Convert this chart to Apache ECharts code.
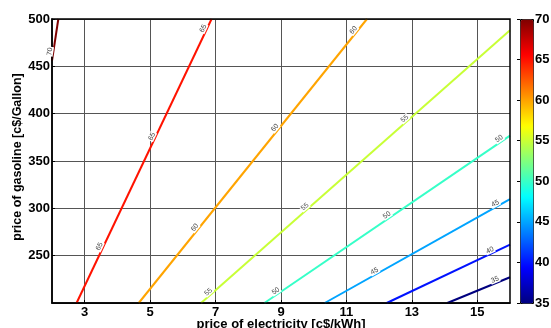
<!DOCTYPE html>
<html>
<head>
<meta charset="utf-8">
<script src="https://cdn.jsdelivr.net/npm/echarts@6/dist/echarts.min.js"></script>
<style>
html,body{margin:0;padding:0;background:#fff;}
#chart{width:551px;height:328px;}
</style>
</head>
<body>
<div id="chart"></div>
<script>
// contour levels and the gasoline/electricity price ratio each one follows
var levels = [35, 40, 45, 50, 55, 60, 65, 70];
var ratios = [14.2, 16.35, 19.35, 23.55, 30.5, 43.0, 72.7, 228];
// x positions (electricity price) where each contour carries its label
var labelAt = [
    [15.58],
    [15.43],
    [11.91, 15.6],
    [8.9, 12.3, 15.73],
    [6.85, 9.8, 12.85],
    [6.45, 8.9, 11.3],
    [3.55, 5.15, 6.72],
    [2.04]
];
var xTicks = [3, 5, 7, 9, 11, 13, 15];
var xMin = 2, xMax = 16, yMin = 200, yMax = 500;
var cMin = 35, cMax = 70;

var jet = ['#00007f', '#0000ff', '#007fff', '#00ffff', '#7fff7f', '#ffff00', '#ff7f00', '#ff0000', '#7f0000'];

function hex(c) { return [parseInt(c.substr(1, 2), 16), parseInt(c.substr(3, 2), 16), parseInt(c.substr(5, 2), 16)]; }
function jetColor(v) {
    var t = (v - cMin) / (cMax - cMin) * (jet.length - 1);
    var i = Math.min(Math.floor(t), jet.length - 2);
    var f = t - i;
    var a = hex(jet[i]), b = hex(jet[i + 1]);
    return 'rgb(' + [0, 1, 2].map(function (k) { return Math.round(a[k] + (b[k] - a[k]) * f); }).join(',') + ')';
}

var font = '"Liberation Sans", Arial, Helvetica, sans-serif';
var series = [];

levels.forEach(function (lv, n) {
    var r = ratios[n];
    var x0 = Math.max(xMin, yMin / r), x1 = Math.min(xMax, yMax / r);
    var col = jetColor(lv);
    var marks = labelAt[n].map(function (xa) {
        var d = 0.02;
        return [{coord: [xa - d, r * (xa - d)]}, {coord: [xa + d, r * (xa + d)]}];
    });
    series.push({
        type: 'line',
        name: String(lv),
        data: [[x0, r * x0], [x1, r * x1]],
        showSymbol: false,
        symbol: 'none',
        lineStyle: {color: col, width: 2},
        itemStyle: {color: col},
        z: 3,
        markLine: {
            silent: true,
            symbol: ['none', 'none'],
            animation: false,
            lineStyle: {color: 'rgba(255,255,255,0)', width: 0, type: 'solid'},
            label: {
                show: true,
                position: 'middle',
                formatter: String(lv),
                fontSize: 7,
                fontFamily: font,
                color: '#444',
                backgroundColor: '#fff',
                padding: [0, 1],
                distance: 0
            },
            data: marks
        }
    });
});

series.push({type: 'scatter', xAxisIndex: 1, yAxisIndex: 1, data: []});

var myChart = echarts.init(document.getElementById('chart'));
var option = {
    animation: false,
    backgroundColor: '#fff',
    grid: [
        {left: 52, right: 41, top: 19, bottom: 25, show: true, borderColor: '#000', borderWidth: 1.5, z: 5, outerBoundsMode: 'none'},
        {left: 520, width: 13, top: 19, height: 284, show: false, outerBoundsMode: 'none'}
    ],
    xAxis: [{
        type: 'value',
        min: xMin,
        max: xMax,
        name: 'price of electricity [c$/kWh]',
        nameLocation: 'middle',
        nameGap: 15,
        nameMoveOverlap: false,
        nameTextStyle: {fontSize: 13, fontWeight: 'bold', color: '#000', fontFamily: font},
        axisLine: {show: true, lineStyle: {color: '#000', width: 1.5}},
        axisTick: {show: true, inside: true, length: 3, customValues: xTicks, lineStyle: {color: '#000'}},
        axisLabel: {customValues: xTicks, fontSize: 13, fontWeight: 'bold', color: '#000', fontFamily: font, margin: 3},
        splitLine: {show: true, lineStyle: {color: '#555', width: 1}}
    }, {
        gridIndex: 1, type: 'value', show: false, min: 0, max: 1
    }],
    yAxis: [{
        type: 'value',
        min: yMin,
        max: yMax,
        interval: 50,
        name: 'price of gasoline [c$/Gallon]',
        nameLocation: 'middle',
        nameGap: 28,
        nameMoveOverlap: false,
        nameTextStyle: {fontSize: 12.5, fontWeight: 'bold', color: '#000', fontFamily: font, padding: [0, 0, 0, 8]},
        axisLine: {show: true, lineStyle: {color: '#000', width: 1.5}},
        axisTick: {show: true, inside: true, length: 3, lineStyle: {color: '#000'}},
        axisLabel: {showMinLabel: false, fontSize: 13, fontWeight: 'bold', color: '#000', fontFamily: font, margin: 2},
        splitLine: {show: true, lineStyle: {color: '#555', width: 1}}
    }, {
        gridIndex: 1,
        type: 'value',
        position: 'right',
        min: cMin,
        max: cMax,
        interval: 5,
        axisLine: {show: false},
        axisTick: {show: true, inside: true, length: 3, lineStyle: {color: '#000'}},
        axisLabel: {fontSize: 13, fontWeight: 'bold', color: '#000', fontFamily: font, margin: 2},
        splitLine: {show: false},
        z: 10
    }],
    visualMap: {
        type: 'continuous',
        min: cMin,
        max: cMax,
        seriesIndex: series.length - 1,
        left: 520,
        top: 19,
        itemWidth: 13,
        itemHeight: 284,
        padding: 0,
        calculable: false,
        showLabel: false,
        text: null,
        borderColor: '#000',
        borderWidth: 1,
        inRange: {color: jet}
    },
    series: series
};

myChart.setOption(option);
</script>
</body>
</html>
